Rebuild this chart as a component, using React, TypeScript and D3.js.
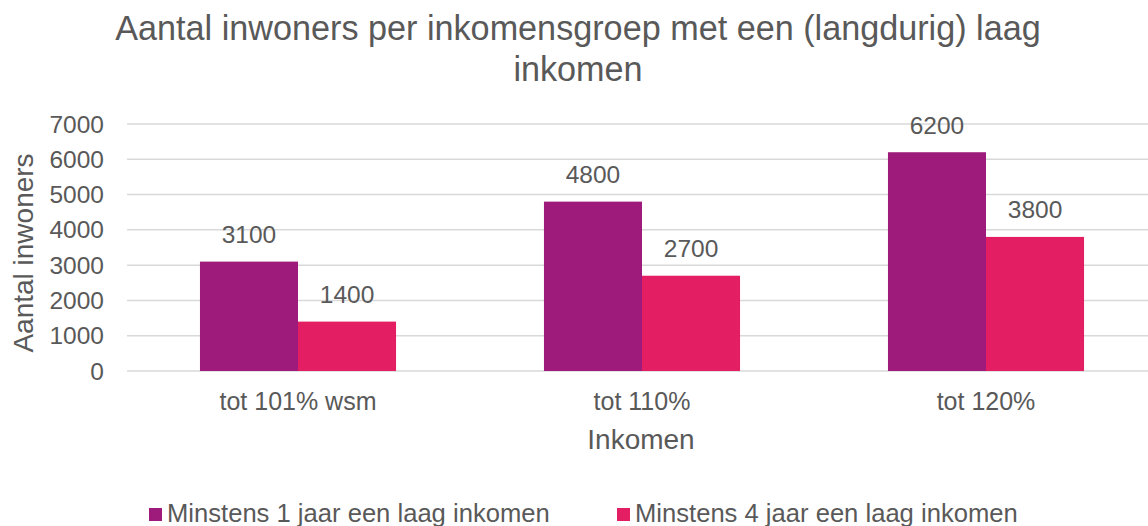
import React from "react";
import * as d3 from "d3";

const categories = ["tot 101% wsm", "tot 110%", "tot 120%"];
const seriesNames = ["Minstens 1 jaar een laag inkomen", "Minstens 4 jaar een laag inkomen"];
const series1 = [3100, 4800, 6200];
const series4 = [1400, 2700, 3800];
const yTicks = [0, 1000, 2000, 3000, 4000, 5000, 6000, 7000];
const colors = ["#9E1A7B", "#E31E62"];
const titleLines = ["Aantal inwoners per inkomensgroep met een (langdurig) laag", "inkomen"];
const yLabel = "Aantal inwoners";
const xLabel = "Inkomen";

export default function App() {
  const W = 1148, H = 526;
  const font = "'Liberation Sans', Arial, sans-serif";
  const txt = "#595959";
  const x = d3.scaleBand().domain(categories).range([126, 1158]).paddingInner(0.43).paddingOuter(0.215);
  const inner = d3.scaleBand().domain(["0", "1"]).range([0, x.bandwidth()]);
  const y = d3.scaleLinear().domain([0, 7000]).range([371, 124]);
  const data = [series1, series4];
  return (
    <svg width={W} height={H} style={{ position: "absolute", left: 0, top: 0, background: "#fff" }} fontFamily={font}>
      {titleLines.map((t, i) => (
        <text key={i} x={578} y={40 + i * 41} textAnchor="middle" fontSize={34.2} fill={txt}>{t}</text>
      ))}
      {yTicks.map((t) => (
        <g key={t}>
          <line x1={127} x2={1148} y1={y(t)} y2={y(t)} stroke="#D9D9D9" strokeWidth={1.5} />
          <text x={104} y={y(t) + 8.5} textAnchor="end" fontSize={24.5} fill={txt}>{t}</text>
        </g>
      ))}
      {data.map((s, si) =>
        s.map((v, ci) => {
          const bx = (x(categories[ci]) ?? 0) + (inner(String(si)) ?? 0);
          const bw = inner.bandwidth();
          return (
            <g key={`${si}-${ci}`}>
              <rect x={bx} y={y(v)} width={bw} height={y(0) - y(v)} fill={colors[si]} />
              <text x={bx + bw / 2} y={y(v) - 18.5} textAnchor="middle" fontSize={24.5} fill={txt}>{v}</text>
            </g>
          );
        })
      )}
      {categories.map((c) => (
        <text key={c} x={(x(c) ?? 0) + x.bandwidth() / 2} y={410} textAnchor="middle" fontSize={25} fill={txt}>{c}</text>
      ))}
      <text x={641} y={449} textAnchor="middle" fontSize={28} fill={txt}>{xLabel}</text>
      <text transform={`translate(33,253) rotate(-90)`} textAnchor="middle" fontSize={28} fill={txt}>{yLabel}</text>
      {seriesNames.map((n, i) => {
        const lx = i === 0 ? 149 : 617;
        return (
          <g key={n}>
            <rect x={lx} y={508} width={13} height={13} fill={colors[i]} />
            <text x={lx + 18} y={522} fontSize={25.6} fill={txt}>{n}</text>
          </g>
        );
      })}
    </svg>
  );
}
